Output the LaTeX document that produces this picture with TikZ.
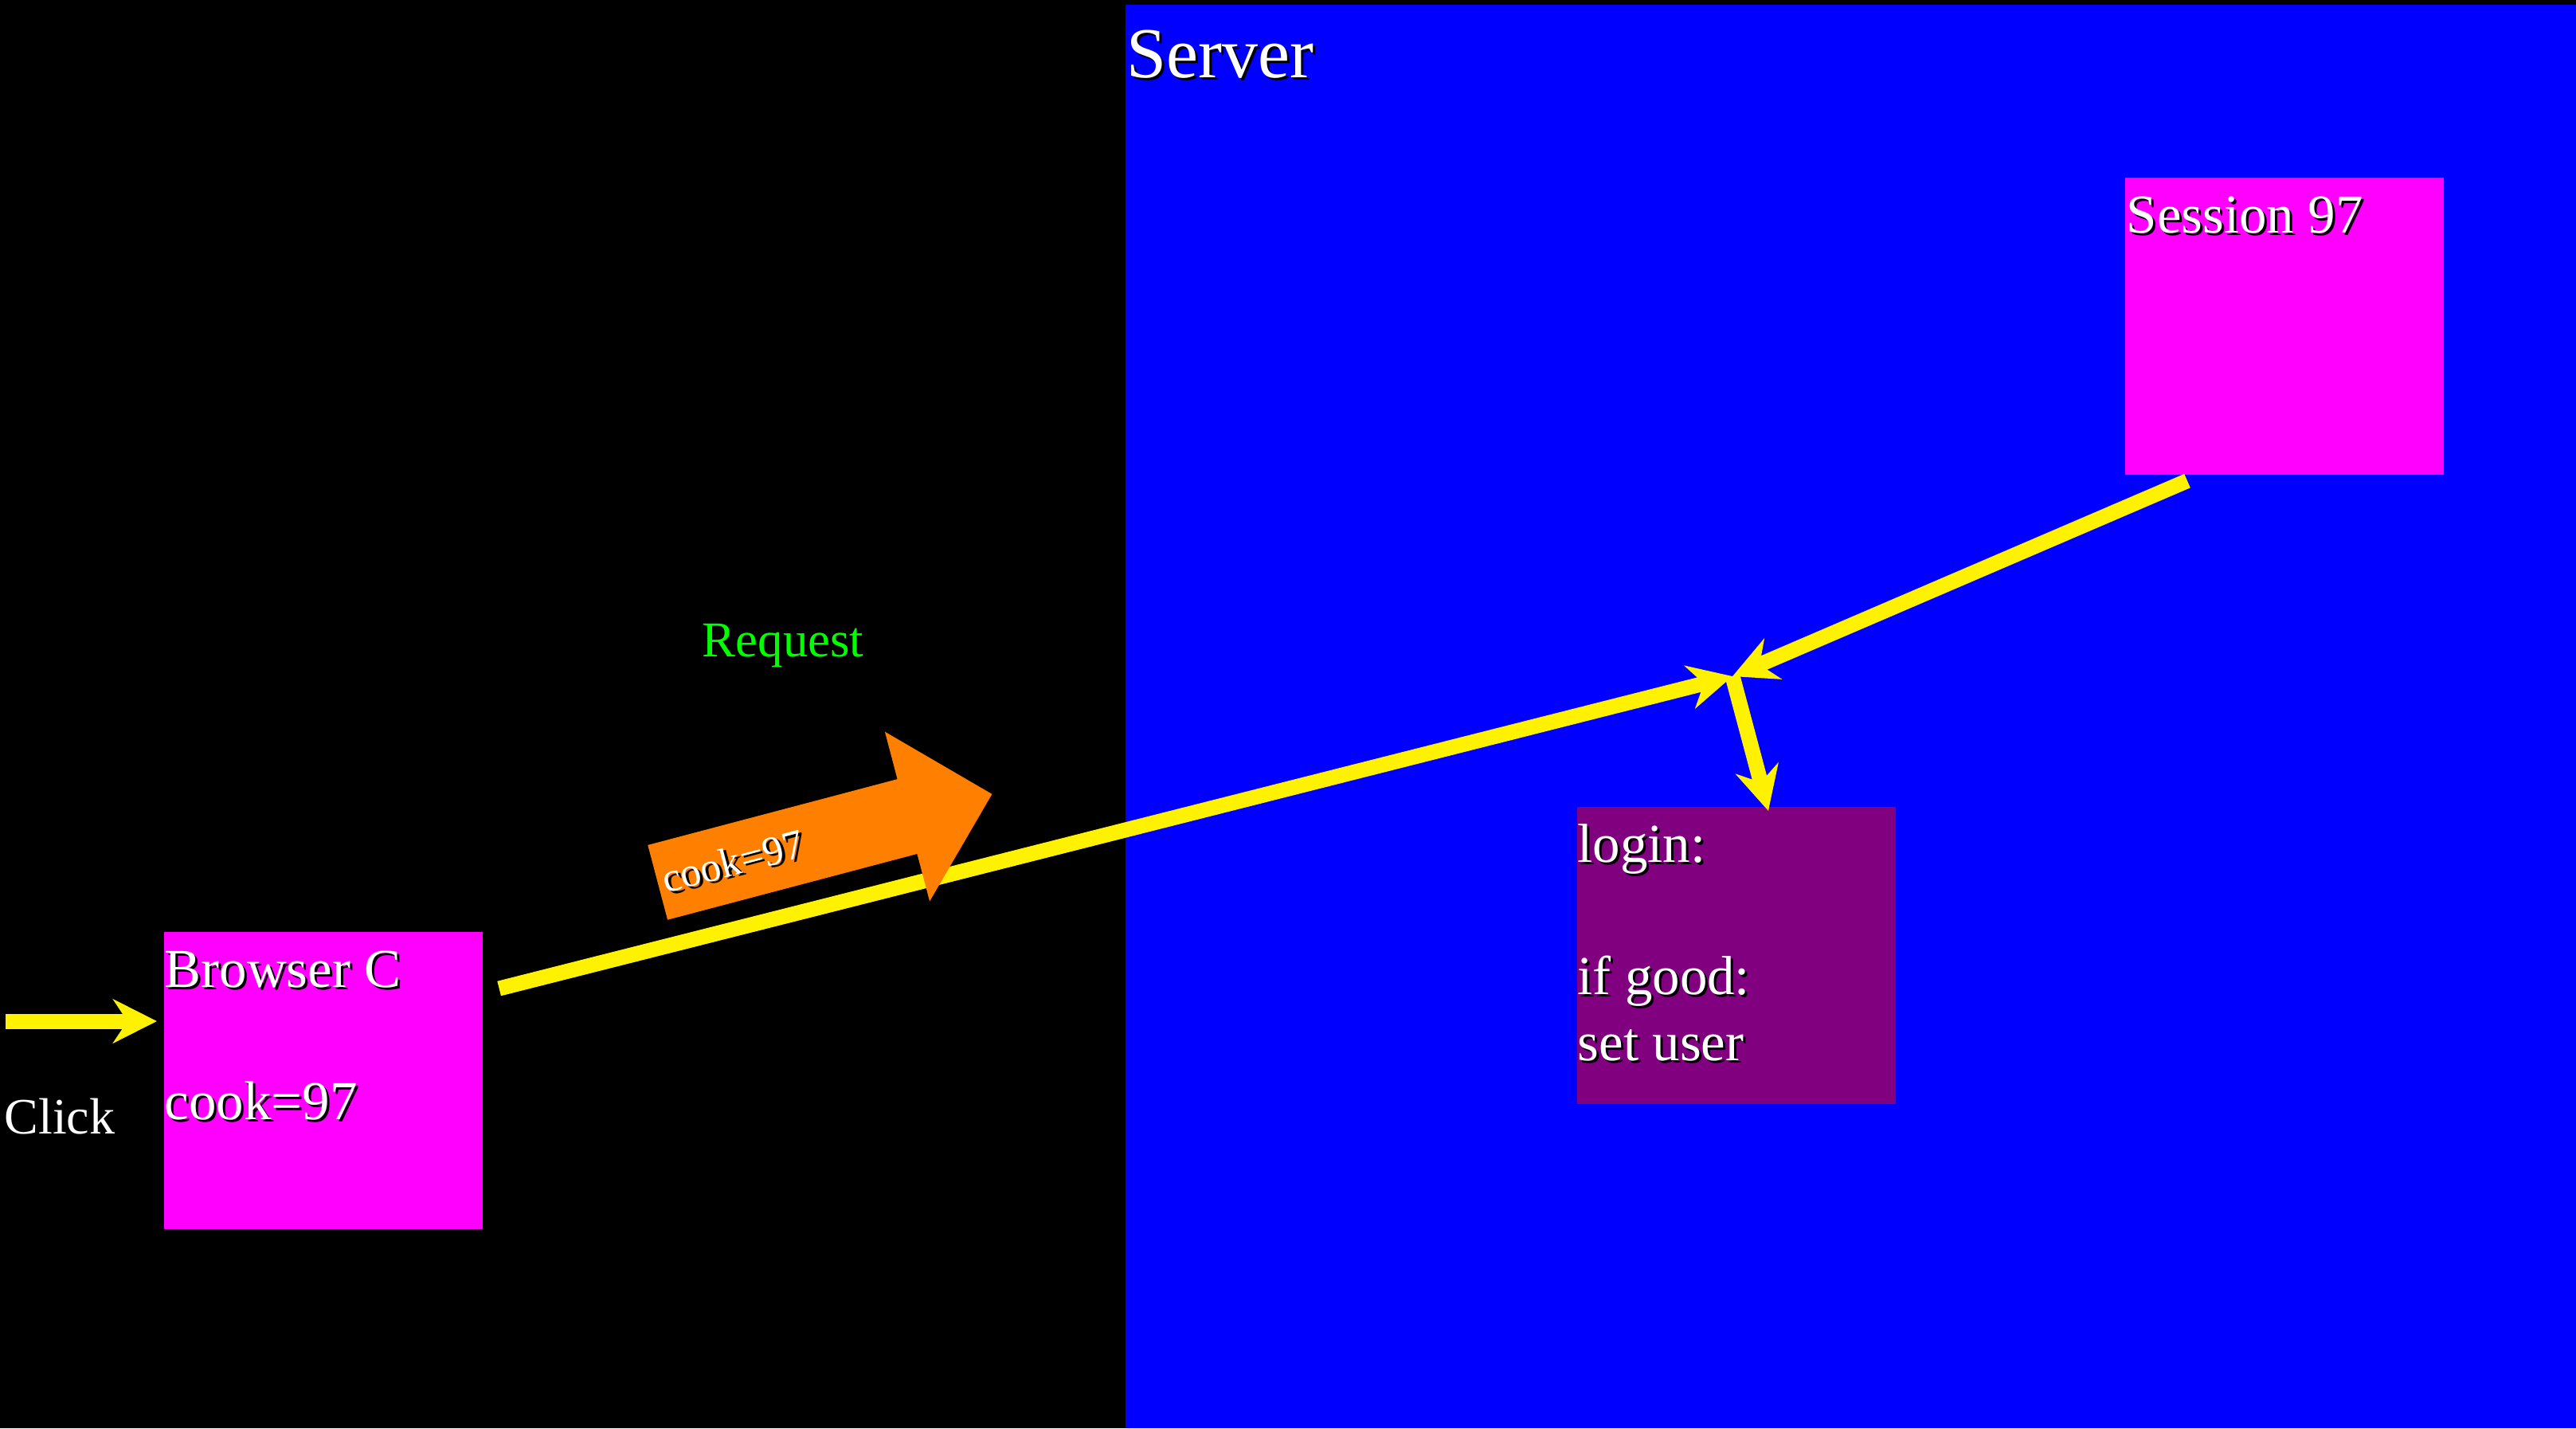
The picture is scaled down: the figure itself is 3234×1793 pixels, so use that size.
\documentclass[tikz,border=0pt]{standalone}
\usepackage{fontspec}
\setmainfont{Liberation Serif}
\usetikzlibrary{shapes.arrows,arrows.meta}
\definecolor{boxmagenta}{HTML}{FF00FF}
\definecolor{loginpurple}{HTML}{800080}
\definecolor{cookorange}{HTML}{FF8000}
\definecolor{reqgreen}{HTML}{00FF00}
\newcommand\shd[1]{\leavevmode\rlap{\kern0.03cm\raisebox{-0.03cm}{\color{black}#1}}#1}
\newcommand\firstline{\rule{0pt}{0.7cm}}
\begin{document}
\begin{tikzpicture}[x=0.01cm, y=-0.01cm, line join=round,
	font=\fontsize{19.6pt}{23.6pt}\selectfont,
	box/.style={anchor=north west, inner sep=0, minimum width=4cm, minimum height=3.73cm},
	boxtext/.style={anchor=north west, inner sep=0, align=left, text=white},
	wire/.style={yellow, line width=0.19cm, -{Stealth[length=0.55cm, width=0.55cm, inset=0.18cm]}}]
	\useasboundingbox[fill=black] (0,0) rectangle (3234,1793);
	\fill[blue] (1413,6) rectangle (3234,1793);
	\node[boxtext, anchor=base west, font=\fontsize{25.6pt}{30pt}\selectfont] (server) at (1414,97) {\shd{Server}};
	% boxes
	\node[box, fill=boxmagenta] (browser) at (205,1169) {};
	\node[box, fill=boxmagenta] (session) at (2667,222) {};
	\node[box, fill=loginpurple] (login) at (1979,1012) {};
	\node[boxtext] (browsertext) at ([xshift=0.01cm]browser.north west) {\firstline\shd{Browser C}\\ \\\shd{cook=97}};
	\node[boxtext] (sessiontext) at ([xshift=0.02cm]session.north west) {\firstline\shd{Session 97}};
	\node[boxtext] (logintext) at ([xshift=0.01cm]login.north west) {\firstline\shd{login:}\\ \\\shd{if good:}\\\shd{set user}};
	\node[boxtext, anchor=base west, font=\fontsize{18.2pt}{22pt}\selectfont] (click) at (5,1423) {Click};
	\node[anchor=base, inner sep=0, text=reqgreen, font=\fontsize{17.9pt}{21pt}\selectfont] (request) at (983,824) {Request};
	% connectors
	\coordinate (jn) at (2175,849);
	\coordinate (clickstart) at (7,1282);
	\draw[wire, shorten >=0.08cm] (clickstart) -- (browser.west |- clickstart);
	\draw[wire] ([shift={(20,72)}]browser.north east) -- (jn);
	\draw[wire] ([shift={(79,7)}]session.south west) -- (jn);
	\draw[wire] (jn) -- ([shift={(241,6)}]login.north west);
	\node[single arrow, fill=cookorange, anchor=tail, rotate=14.8, inner xsep=0.06cm, inner ysep=0.28cm,
		single arrow head extend=0.615cm, text=white, font=\fontsize{14.8pt}{17pt}\selectfont]
		(cookie) at (825,1108) {\makebox[3.72cm][l]{\shd{cook=97}}};
\end{tikzpicture}
\end{document}
